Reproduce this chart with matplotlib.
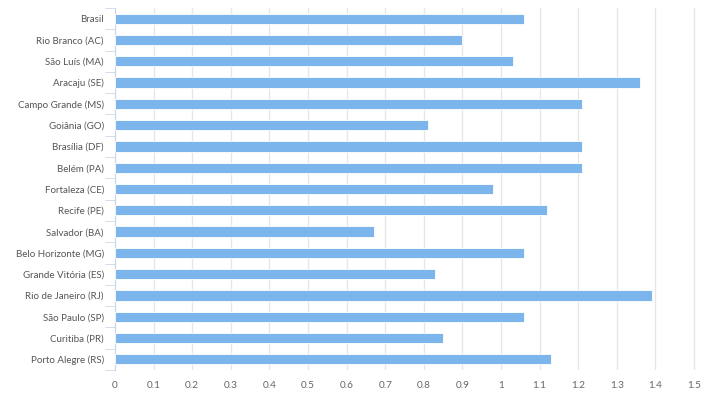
import matplotlib.pyplot as plt
import numpy as np

cidades = ['Brasil', 'Rio Branco (AC)', 'São Luís (MA)', 'Aracaju (SE)', 'Campo Grande (MS)',
           'Goiânia (GO)', 'Brasília (DF)', 'Belém (PA)', 'Fortaleza (CE)', 'Recife (PE)',
           'Salvador (BA)', 'Belo Horizonte (MG)', 'Grande Vitória (ES)', 'Rio de Janeiro (RJ)',
           'São Paulo (SP)', 'Curitiba (PR)', 'Porto Alegre (RS)']
valores = [1.06, 0.90, 1.03, 1.36, 1.21, 0.81, 1.21, 1.21, 0.98, 1.12,
           0.67, 1.06, 0.83, 1.39, 1.06, 0.85, 1.13]
xticks = [0, 0.1, 0.2, 0.3, 0.4, 0.5, 0.6, 0.7, 0.8, 0.9, 1, 1.1, 1.2, 1.3, 1.4, 1.5]
xtick_labels = ['0', '0.1', '0.2', '0.3', '0.4', '0.5', '0.6', '0.7', '0.8', '0.9',
                '1', '1.1', '1.2', '1.3', '1.4', '1.5']

plt.rcParams['font.family'] = ['Lato', 'DejaVu Sans']

fig = plt.figure(figsize=(7.1, 3.98), dpi=100)
ax = fig.add_axes([115 / 710, 28 / 398, 585 / 710, 362 / 398])

y = np.arange(len(cidades))
ax.barh(y, valores, height=0.48, color='#7cb5ec', edgecolor='white', linewidth=0.6, zorder=3)

ax.set_ylim(len(cidades) - 0.5, -0.5)
ax.set_xlim(0, 1.5 * 585 / 579)
ax.set_xticks(xticks)
ax.set_xticklabels(xtick_labels, fontsize=7.2, color='#666666')
ax.set_yticks(y)
ax.set_yticklabels(cidades, fontsize=7, color='#555555')
ax.set_yticks(np.arange(len(cidades) + 1) - 0.5, minor=True)

ax.grid(axis='x', color='#e6e6e6', linewidth=1, zorder=0)
for s in ['top', 'right', 'bottom']:
    ax.spines[s].set_visible(False)
ax.spines['left'].set_color('#ccd6eb')
ax.tick_params(axis='x', length=0, pad=8)
ax.tick_params(axis='y', which='major', length=0, pad=8)
ax.tick_params(axis='y', which='minor', length=7, color='#ccd6eb')

fig.savefig('out.png', dpi=100)
